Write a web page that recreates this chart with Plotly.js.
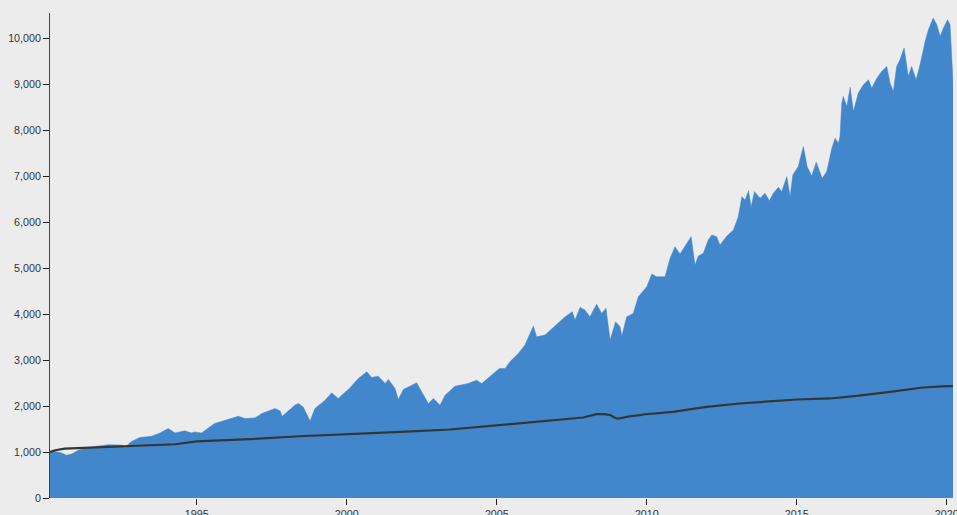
<!DOCTYPE html>
<html>
<head>
<meta charset="utf-8">
<script src="https://cdn.plot.ly/plotly-3.0.1.min.js"></script>
<style>
  html, body { margin: 0; padding: 0; background: #ececec; }
  #chart { width: 957px; height: 515px; }
</style>
</head>
<body>
<div id="chart"></div>
<script>
// Portfolio value (blue area): decimal year, value
const portfolioYears = [
  1990.11, 1990.3, 1990.5, 1990.67, 1990.85, 1991.05, 1991.38, 1992.05, 1992.5, 1992.6,
  1992.8, 1993.1, 1993.5, 1993.78, 1994.05, 1994.28, 1994.6, 1994.83, 1994.94, 1995.16,
  1995.6, 1996.05, 1996.39, 1996.61, 1996.94, 1997.17, 1997.61, 1997.78, 1997.85, 1998.27,
  1998.39, 1998.55, 1998.78, 1998.94, 1999.28, 1999.5, 1999.72, 2000.09, 2000.39, 2000.67,
  2000.83, 2001.05, 2001.28, 2001.39, 2001.61, 2001.72, 2001.89, 2002.33, 2002.44, 2002.61,
  2002.72, 2002.89, 2003.11, 2003.28, 2003.61, 2004.05, 2004.33, 2004.5, 2004.83, 2005.09,
  2005.28, 2005.44, 2005.72, 2005.94, 2006.22, 2006.33, 2006.61, 2006.94, 2007.28, 2007.52,
  2007.61, 2007.78, 2007.94, 2008.11, 2008.33, 2008.5, 2008.64, 2008.78, 2008.96, 2009.11,
  2009.17, 2009.33, 2009.55, 2009.72, 2010.0, 2010.17, 2010.33, 2010.61, 2010.78, 2010.94,
  2011.11, 2011.28, 2011.48, 2011.61, 2011.72, 2011.89, 2012.05, 2012.17, 2012.33, 2012.44,
  2012.67, 2012.89, 2013.05, 2013.17, 2013.28, 2013.39, 2013.48, 2013.59, 2013.78, 2013.94,
  2014.09, 2014.22, 2014.39, 2014.5, 2014.67, 2014.78, 2014.87, 2015.05, 2015.22, 2015.35,
  2015.5, 2015.65, 2015.85, 2016.0, 2016.17, 2016.28, 2016.39, 2016.44, 2016.5, 2016.55,
  2016.67, 2016.78, 2016.89, 2017.05, 2017.22, 2017.39, 2017.5, 2017.67, 2017.83, 2018.0,
  2018.11, 2018.22, 2018.33, 2018.44, 2018.58, 2018.72, 2018.83, 2018.98, 2019.11, 2019.28,
  2019.39, 2019.55, 2019.67, 2019.78, 2019.89, 2020.03, 2020.11, 2020.2, 2020.21
];
const portfolioValues = [
  1000, 1010, 980, 930, 960, 1040, 1100, 1160, 1150, 1090,
  1220, 1315, 1343, 1415, 1510, 1415, 1460, 1415, 1437, 1415,
  1620, 1707, 1778, 1728, 1742, 1837, 1946, 1894, 1778, 2018,
  2055, 1981, 1676, 1946, 2127, 2286, 2164, 2381, 2599, 2743,
  2621, 2649, 2490, 2577, 2381, 2142, 2360, 2505, 2381, 2164,
  2055, 2164, 2018, 2236, 2431, 2490, 2562, 2490, 2671, 2817,
  2817, 2960, 3143, 3324, 3738, 3505, 3542, 3738, 3940, 4049,
  3868, 4144, 4086, 3940, 4210, 4014, 4123, 3433, 3831, 3723,
  3520, 3940, 4014, 4375, 4593, 4869, 4811, 4811, 5211, 5464,
  5305, 5479, 5682, 5065, 5261, 5320, 5610, 5718, 5682, 5501,
  5697, 5827, 6117, 6552, 6480, 6683, 6334, 6661, 6517, 6626,
  6465, 6626, 6756, 6661, 6987, 6552, 7024, 7205, 7641, 7200,
  7000, 7300, 6950, 7100, 7605, 7823, 7714, 7858, 8585, 8730,
  8511, 8933, 8403, 8803, 8983, 9092, 8911, 9129, 9273, 9382,
  9019, 8838, 9382, 9527, 9782, 9165, 9382, 9092, 9419, 9926,
  10180, 10435, 10290, 10035, 10216, 10398, 10290, 9165, 8970
];

// Benchmark (dark line): decimal year, value
const benchmarkYears = [
  1990.11, 1990.28, 1990.6, 1991.1, 1991.78, 1992.6, 1993.43, 1994.28, 1995.0, 1996.78,
  1998.43, 2000.0, 2001.8, 2003.45, 2005.0, 2006.78, 2007.88, 2008.33, 2008.6, 2008.8,
  2008.95, 2009.05, 2009.44, 2009.78, 2009.88, 2010.87, 2011.99, 2013.1, 2014.22, 2015.0,
  2016.11, 2017.0, 2018.11, 2019.21, 2020.0, 2020.21
];
const benchmarkValues = [
  1001, 1038, 1075, 1088, 1110, 1125, 1147, 1169, 1230, 1280,
  1343, 1380, 1437, 1489, 1582, 1676, 1750, 1822, 1822, 1800,
  1740, 1728, 1778, 1800, 1815, 1872, 1981, 2055, 2112, 2142,
  2164, 2220, 2308, 2403, 2431, 2431
];

const yTickVals = [0, 1000, 2000, 3000, 4000, 5000, 6000, 7000, 8000, 9000, 10000];
const xTickLabels = ['1995', '2000', '2005', '2010', '2015', '2020'];

function toDate(y) {
  const yr = Math.floor(y);
  const start = Date.UTC(yr, 0, 1);
  const end = Date.UTC(yr + 1, 0, 1);
  return new Date(start + (y - yr) * (end - start)).toISOString().slice(0, 10);
}

const pX = portfolioYears.map(toDate);
const bX = benchmarkYears.map(toDate);

const traces = [
  {
    type: 'scatter', mode: 'lines', x: pX, y: portfolioValues,
    fill: 'tozeroy', fillcolor: 'rgb(66,135,204)',
    line: { color: 'rgb(66,135,204)', width: 0.5 },
    hoverinfo: 'skip'
  },
  {
    type: 'scatter', mode: 'lines', x: bX, y: benchmarkValues,
    line: { color: '#353535', width: 2.2 },
    hoverinfo: 'skip'
  }
];

const layout = {
  width: 957, height: 515,
  margin: { l: 50, r: 4, t: 13, b: 17, pad: 0 },
  paper_bgcolor: '#ececec', plot_bgcolor: '#ececec',
  showlegend: false,
  font: { family: 'Liberation Sans, Arial, sans-serif', size: 10.7, color: '#333' },
  xaxis: {
    type: 'date',
    range: [toDate(portfolioYears[0]), toDate(portfolioYears[portfolioYears.length - 1])],
    tickvals: xTickLabels.map(s => s + '-01-01'),
    ticktext: xTickLabels,
    ticklabeloverflow: 'allow',
    ticks: 'outside', ticklen: 6, tickwidth: 1, tickcolor: '#222',
    showgrid: false, zeroline: false, showline: false,
    fixedrange: true
  },
  yaxis: {
    range: [0, 10545],
    tickvals: yTickVals,
    tickformat: ',d',
    ticks: 'outside', ticklen: 6, tickwidth: 1, tickcolor: '#222',
    showgrid: false, zeroline: false,
    showline: true, linecolor: '#444', linewidth: 1,
    fixedrange: true
  }
};

Plotly.newPlot('chart', traces, layout, { displayModeBar: false, staticPlot: true });
</script>
</body>
</html>
